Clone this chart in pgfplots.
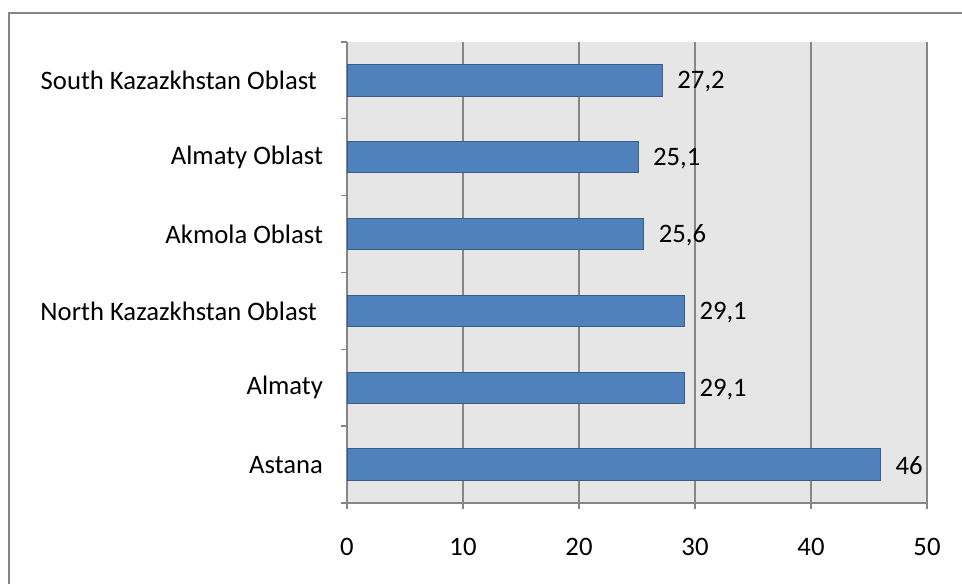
\documentclass[border=0pt]{standalone}
\usepackage{fontspec}
\setmainfont{Carlito}
\usepackage{pgfplots}
\pgfplotsset{compat=1.18}
\definecolor{barfill}{HTML}{4F81BD}
\definecolor{barline}{HTML}{385D8A}
\definecolor{plotbg}{HTML}{E6E6E6}
\definecolor{axisgray}{HTML}{868686}
\begin{document}
\begin{tikzpicture}[x=0.75pt,y=0.75pt]
\useasboundingbox (0,0) rectangle (962,584);
% chart frame: only its left and top edges fall inside the page
\draw[axisgray, line width=1.5pt] (8.5,0) -- (8.5,570.5) -- (962,570.5);
\begin{axis}[
  at={(260.25pt,60.75pt)}, anchor=south west,
  scale only axis, width=435pt, height=345.75pt,
  xbar, bar width=23.6pt,
  xmin=0, xmax=50, ymin=-0.5, ymax=5.5,
  axis background/.style={fill=plotbg},
  axis x line*=bottom, axis y line*=left,
  axis line style={axisgray, line width=1.5pt},
  xtick={0,10,...,50},
  xmajorgrids, grid style={axisgray, line width=1pt},
  ytick={-0.5,0.5,...,5.5},
  y tick label as interval,
  yticklabels={Astana, Almaty, North Kazazkhstan Oblast\ \ , Akmola Oblast, Almaty Oblast, South Kazazkhstan Oblast\ \ },
  tick align=outside, major tick length=4.5pt,
  tick style={axisgray, line width=1pt},
  font=\fontsize{20}{24}\selectfont,
  /pgf/number format/assume math mode=true,
  /pgf/number format/use comma,
  xticklabel style={yshift=-18pt},
  yticklabel style={xshift=-10pt},
  nodes near coords,
  nodes near coords align=horizontal,
  every node near coord/.append style={black, xshift=7.5pt, yshift=-1pt, font=\fontsize{20}{24}\selectfont},
]
\addplot[fill=barfill, draw=barline, line width=0.75pt] coordinates {
  (46,0) (29.1,1) (29.1,2) (25.6,3) (25.1,4) (27.2,5)
};
\end{axis}
\end{tikzpicture}
\end{document}
